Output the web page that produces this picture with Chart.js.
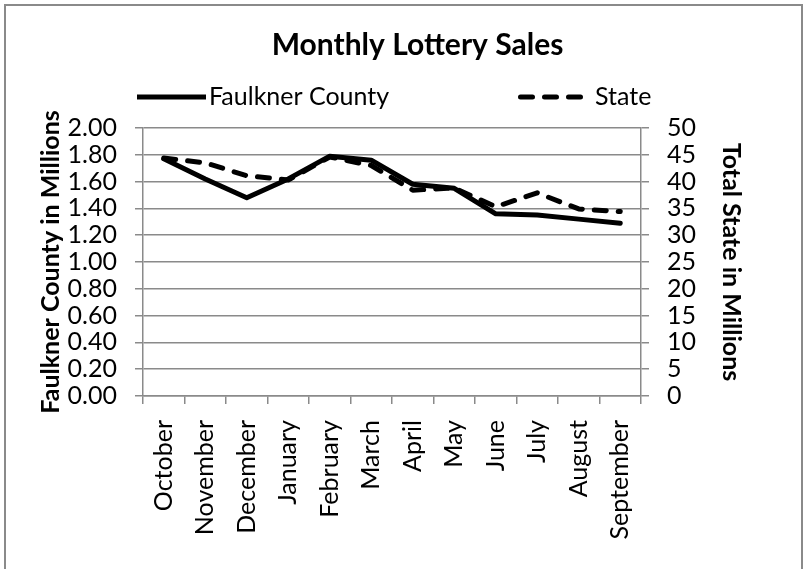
<!DOCTYPE html>
<html><head><meta charset="utf-8">
<script src="https://cdn.jsdelivr.net/npm/chart.js@4.4.1/dist/chart.umd.min.js"></script>
<style>html,body{margin:0;padding:0;background:#fff;} #wrap{position:relative;width:805px;height:569px;} canvas{display:block;}</style>
</head><body><div id="wrap"><canvas id="c" width="805" height="569"></canvas></div>
<script>
const categories = ['October','November','December','January','February','March','April','May','June','July','August','September'];
const faulknerCounty = [1.77,1.62,1.48,1.62,1.79,1.76,1.58,1.55,1.36,1.35,1.32,1.29];
const stateTotal = [44.4,43.5,41.1,40.3,44.6,43.0,38.4,38.8,35.3,37.9,34.9,34.4];
const leftAxisRange = [0, 2, 0.2];
const rightAxisRange = [0, 50, 5];

const FONT = 'Lato';
const GRID = '#8a8a8a';

const frame = {
  id: 'frame',
  beforeDraw(chart) {
    const ctx = chart.ctx;
    ctx.save();
    ctx.fillStyle = '#fff';
    ctx.fillRect(0, 0, chart.width, chart.height);
    ctx.strokeStyle = '#8a8a8a';
    ctx.lineWidth = 2;
    ctx.strokeRect(5, 5, 797, 600);
    ctx.restore();
  }
};

const manualLegend = {
  id: 'manualLegend',
  afterDraw(chart, args, opts) {
    const ctx = chart.ctx;
    ctx.save();
    ctx.font = opts.font;
    ctx.textBaseline = 'middle';
    ctx.textAlign = 'left';
    ctx.fillStyle = '#000';
    chart.data.datasets.forEach((ds, i) => {
      const it = opts.items[i];
      ctx.beginPath();
      ctx.lineWidth = ds.borderWidth;
      ctx.strokeStyle = ds.borderColor;
      ctx.setLineDash(ds.borderDash || []);
      ctx.lineCap = it.cap;
      ctx.moveTo(it.x, opts.y);
      ctx.lineTo(it.x + it.w, opts.y);
      ctx.stroke();
      ctx.setLineDash([]);
      ctx.fillText(ds.label, it.textX, opts.y);
    });
    ctx.restore();
  }
};

new Chart(document.getElementById('c'), {
  type: 'line',
  data: {
    labels: categories,
    datasets: [
      { label: 'Faulkner County', data: faulknerCounty, yAxisID: 'y', borderColor: '#000', borderWidth: 5,
        borderCapStyle: 'round', borderJoinStyle: 'round', pointRadius: 0, tension: 0, fill: false },
      { label: 'State', data: stateTotal, yAxisID: 'y1', borderColor: '#000', borderWidth: 5, borderDash: [12, 12],
        borderCapStyle: 'round', borderJoinStyle: 'round', pointRadius: 0, tension: 0, fill: false }
    ]
  },
  options: {
    responsive: false,
    animation: false,
    devicePixelRatio: 1,
    layout: { padding: { left: 30, right: 0, top: 5, bottom: 0 } },
    plugins: {
      legend: { display: false },
      tooltip: { enabled: false },
      title: {
        display: true, text: 'Monthly Lottery Sales', color: '#000',
        font: { family: FONT, size: 30, weight: 'bold', lineHeight: 1.2 },
        padding: { top: 22, bottom: 65 }
      },
      manualLegend: {
        font: '25px ' + FONT, y: 97,
        items: [
          { x: 137, w: 69, textX: 209, cap: 'butt' },
          { x: 520.5, w: 60, textX: 595, cap: 'round' }
        ]
      }
    },
    scales: {
      x: {
        offset: true,
        grid: { offset: true, drawOnChartArea: false, drawTicks: true, tickLength: 8, color: GRID, lineWidth: 1.5 },
        border: { display: true, color: GRID, width: 1.5 },
        ticks: { autoSkip: false, minRotation: 90, maxRotation: 90, padding: 16, color: '#000', font: { family: FONT, size: 25 } },
        afterFit(s) { s.height = 173; }
      },
      y: {
        position: 'left', min: leftAxisRange[0], max: leftAxisRange[1],
        grid: { drawOnChartArea: true, tickLength: 8, color: GRID, lineWidth: 1.5 },
        border: { display: true, color: GRID, width: 1.5 },
        ticks: { autoSkip: false, stepSize: leftAxisRange[2], padding: 18, color: '#000', font: { family: FONT, size: 25 },
          callback: v => Number(v).toFixed(2) },
        title: { display: true, text: 'Faulkner County in Millions', color: '#000',
          font: { family: FONT, size: 25, weight: 'bold', lineHeight: 1.2 }, padding: { top: 6, bottom: 0 } },
        afterFit(s) { s.width = 113; }
      },
      y1: {
        position: 'right', min: rightAxisRange[0], max: rightAxisRange[1],
        grid: { drawOnChartArea: false, tickLength: 8, color: GRID, lineWidth: 1.5 },
        border: { display: true, color: GRID, width: 1.5 },
        ticks: { autoSkip: false, stepSize: rightAxisRange[2], padding: 18, color: '#000', font: { family: FONT, size: 25 } },
        title: { display: true, text: 'Total State in Millions', color: '#000',
          font: { family: FONT, size: 25, weight: 'bold', lineHeight: 1.2 }, padding: { top: 59, bottom: 0 } },
        afterFit(s) { s.width = 164; }
      }
    }
  },
  plugins: [frame, manualLegend]
});
</script></body></html>
